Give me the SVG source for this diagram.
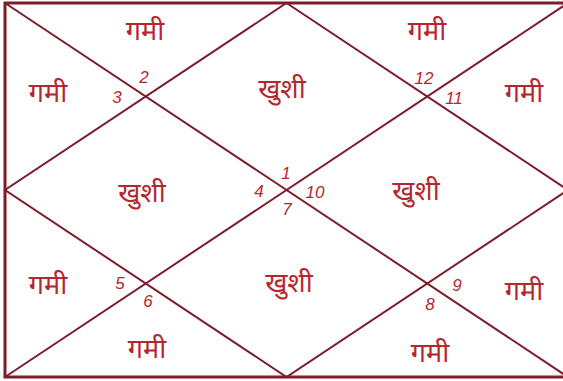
<svg xmlns="http://www.w3.org/2000/svg" width="563" height="381" viewBox="0 0 563 381">
<style>
.frame{fill:none;stroke:#7d1c2a;stroke-width:3}
.ln{stroke:#7d1c2a;stroke-width:2;fill:none}
.lb{font-family:"Noto Sans","Noto Sans Devanagari",sans-serif;font-size:27px;font-weight:normal;fill:#b5262e;text-anchor:middle;dominant-baseline:central}
.n{font-family:"Liberation Sans",sans-serif;font-style:italic;font-size:17px;fill:#b5262e;text-anchor:middle;dominant-baseline:central}
</style>
<rect width="563" height="381" fill="#ffffff"/>
<g id="connectors">
<rect class="frame" x="5" y="3" width="563" height="374"/>
<line class="ln" x1="5" y1="3" x2="568" y2="377"/>
<line class="ln" x1="5" y1="377" x2="568" y2="3"/>
<polygon class="ln" points="286.5,3 568,190 286.5,377 5,190"/>
</g>
<g id="h1"><text class="lb" x="282" y="87">खुशी</text><text class="n" x="286" y="173">1</text></g>
<g id="h2"><text class="lb" x="145" y="29">गमी</text><text class="n" x="144" y="77">2</text></g>
<g id="h3"><text class="lb" x="48" y="91">गमी</text><text class="n" x="117" y="97">3</text></g>
<g id="h4"><text class="lb" x="142" y="191">खुशी</text><text class="n" x="259" y="191">4</text></g>
<g id="h5"><text class="lb" x="48" y="283">गमी</text><text class="n" x="120" y="283">5</text></g>
<g id="h6"><text class="lb" x="147" y="347">गमी</text><text class="n" x="148" y="301">6</text></g>
<g id="h7"><text class="lb" x="289" y="281">खुशी</text><text class="n" x="287" y="209">7</text></g>
<g id="h8"><text class="lb" x="430" y="351">गमी</text><text class="n" x="430" y="304">8</text></g>
<g id="h9"><text class="lb" x="524" y="289">गमी</text><text class="n" x="457" y="285">9</text></g>
<g id="h10"><text class="lb" x="416" y="189">खुशी</text><text class="n" x="315" y="192">10</text></g>
<g id="h11"><text class="lb" x="524" y="91">गमी</text><text class="n" x="454" y="98">11</text></g>
<g id="h12"><text class="lb" x="427" y="29">गमी</text><text class="n" x="424" y="78">12</text></g>
</svg>
